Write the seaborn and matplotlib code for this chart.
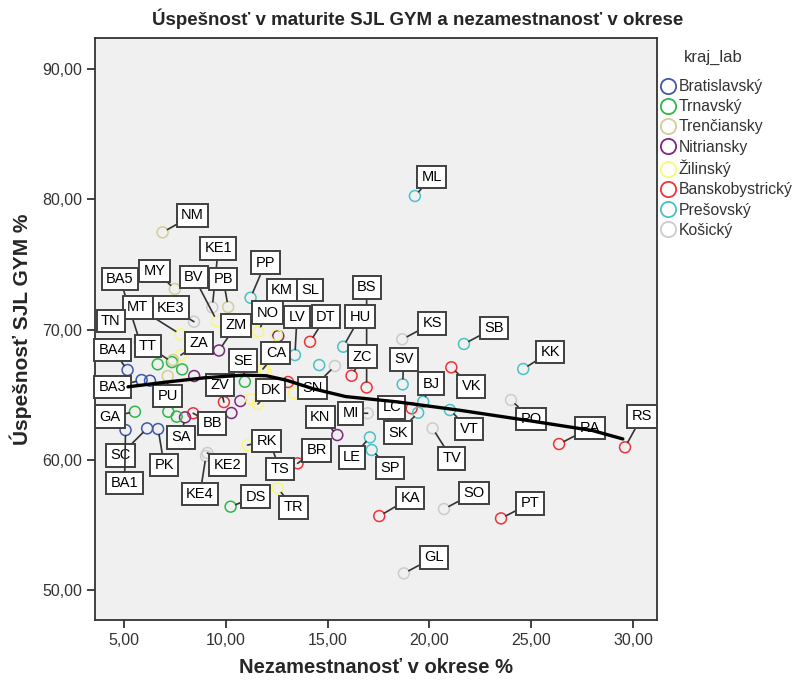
import matplotlib
matplotlib.use('Agg')
import matplotlib.pyplot as plt
from matplotlib import font_manager
from matplotlib.lines import Line2D
from matplotlib.ticker import FuncFormatter
import seaborn as sns
import pandas as pd

# kraje a farby (SPSS default)
kraje = ['Bratislavský', 'Trnavský', 'Trenčiansky', 'Nitriansky',
         'Žilinský', 'Banskobystrický', 'Prešovský', 'Košický']
farby = ['#3E58AC', '#2EB848', '#D3CE97', '#7C287D',
         '#FBF873', '#EF3338', '#48C2C5', '#CCCCCC']

# okresy ('' = bez popisku)
okres = ['NM', 'KE1', 'MY', 'BV', 'PB', 'PP', 'BA5', 'KM', 'SL', 'BS',
         'MT', 'KE3', 'NO', 'LV', 'DT', 'TN', 'ZM', 'HU', 'KS', 'SB',
         'ZA', 'CA', 'TT', 'BA4', 'ZC', 'SV', 'KK', 'SE', 'ZV', 'DK',
         'BA3', 'BJ', 'VK', 'SN', 'PU', 'KN', 'MI', 'LC', 'PO', 'RA',
         'RS', 'GA', 'BB', 'VT', 'SA', 'SK', 'LE', 'SC', 'PK', 'KE2',
         'RK', 'BR', 'TS', 'SP', 'TV', 'BA1', 'KE4', 'DS', 'KA', 'SO',
         'PT', 'TR', 'GL', 'ML',
         '', '', '', '', '', '', '', '', '', '', '', '', '', '', '', '']

kraj = ['Trenčiansky', 'Košický', 'Trenčiansky', 'Žilinský', 'Trenčiansky', 'Prešovský', 'Bratislavský', 'Žilinský', 'Prešovský', 'Banskobystrický',
        'Žilinský', 'Košický', 'Žilinský', 'Prešovský', 'Banskobystrický', 'Trenčiansky', 'Nitriansky', 'Prešovský', 'Košický', 'Prešovský',
        'Žilinský', 'Žilinský', 'Trnavský', 'Bratislavský', 'Banskobystrický', 'Prešovský', 'Prešovský', 'Trnavský', 'Banskobystrický', 'Žilinský',
        'Bratislavský', 'Prešovský', 'Banskobystrický', 'Košický', 'Trenčiansky', 'Nitriansky', 'Košický', 'Banskobystrický', 'Košický', 'Banskobystrický',
        'Banskobystrický', 'Trnavský', 'Banskobystrický', 'Prešovský', 'Nitriansky', 'Prešovský', 'Prešovský', 'Bratislavský', 'Bratislavský', 'Košický',
        'Žilinský', 'Banskobystrický', 'Žilinský', 'Prešovský', 'Košický', 'Bratislavský', 'Košický', 'Trnavský', 'Banskobystrický', 'Košický',
        'Banskobystrický', 'Žilinský', 'Košický', 'Prešovský',
        'Trnavský', 'Trnavský', 'Bratislavský', 'Nitriansky', 'Nitriansky', 'Žilinský', 'Nitriansky', 'Trnavský',
        'Trnavský', 'Nitriansky', 'Žilinský', 'Prešovský', 'Banskobystrický', 'Žilinský', 'Trenčiansky', 'Žilinský']

nezamestnanost = [6.90, 9.34, 7.50, 9.57, 10.12, 11.22, 5.79, 12.76, 14.14, 16.92,
                  7.78, 8.44, 11.60, 13.40, 14.14, 4.80, 9.67, 15.77, 18.67, 21.70,
                  7.80, 11.83, 7.36, 5.18, 16.18, 18.69, 24.61, 10.94, 9.91, 11.58,
                  5.87, 19.70, 21.08, 15.36, 7.15, 15.48, 16.97, 19.13, 24.01, 26.37,
                  29.61, 5.54, 8.40, 21.01, 8.00, 19.45, 17.08, 6.14, 6.68, 9.10,
                  11.07, 13.53, 12.27, 17.17, 20.16, 5.08, 9.03, 10.24, 17.54, 20.72,
                  23.52, 12.55, 18.75, 19.29,
                  6.66, 7.86, 6.28, 8.45, 10.72, 11.24, 10.28, 7.18,
                  7.59, 12.58, 12.50, 14.59, 13.06, 13.35, 7.41, 11.97]

uspesnost = [77.46, 71.70, 73.11, 70.65, 71.73, 72.44, 69.04, 73.03, 73.03, 65.55,
             69.63, 70.60, 69.83, 68.04, 69.06, 70.35, 68.39, 68.68, 69.25, 68.89,
             68.04, 66.97, 67.50, 66.89, 66.45, 65.79, 66.97, 65.99, 64.43, 64.28,
             66.12, 64.46, 67.10, 67.20, 66.43, 61.90, 63.57, 63.95, 64.59, 61.21,
             60.96, 63.69, 63.57, 63.82, 63.26, 63.61, 61.72, 62.41, 62.36, 60.52,
             61.13, 59.73, 60.90, 60.75, 62.41, 62.28, 60.29, 56.40, 55.68, 56.22,
             55.50, 57.81, 51.28, 80.25,
             67.33, 66.94, 66.07, 66.43, 64.51, 64.66, 63.59, 63.69,
             63.31, 69.50, 69.58, 67.27, 65.97, 65.12, 67.66, 66.74]

# krivka (fit line) odcitana z grafu
fit_x = [5.2, 7.0, 9.0, 10.9, 12.0, 13.0, 14.3, 15.9, 18.4, 21.5, 24.7, 28.0, 29.5]
fit_y = [65.6, 65.95, 66.3, 66.5, 66.45, 66.1, 65.45, 64.85, 64.45, 63.8, 63.05, 62.25, 61.6]

# umiestnenie popiskov: posun v pixeloch (vpravo, hore)
label_offsets = {
    'NM': (30, 17), 'KE1': (6, 59), 'MY': (-20, 18), 'BV': (-23, 44), 'PB': (-5, 28),
    'PP': (15, 35), 'BA5': (-20, 63), 'KM': (0, 0), 'SL': (0, 0), 'BS': (0, 100),
    'MT': (-43, 27), 'KE3': (-23, 14), 'NO': (9, 19), 'LV': (2, 38), 'DT': (16, 25),
    'TN': (-9, 4), 'ZM': (17, 25), 'HU': (17, 30), 'KS': (30, 16), 'SB': (30, 16),
    'ZA': (18, 12), 'CA': (13, 16), 'TT': (-24, 16), 'BA4': (-15, 20), 'ZC': (11, 19),
    'SV': (1, 25), 'KK': (27, 17), 'SE': (-2, 21), 'ZV': (-4, 17), 'DK': (13, 14),
    'BA3': (-29, -7), 'BJ': (8, 18), 'VK': (20, -19), 'SN': (-22, -22), 'PU': (0, -20),
    'KN': (-17, 18), 'MI': (-17, 0), 'LC': (-20, 1), 'PO': (20, -19), 'RA': (31, 16),
    'RS': (17, 31), 'GA': (-25, -5), 'BB': (19, -10), 'VT': (19, -19), 'SA': (-4, -20),
    'SK': (-20, -20), 'LE': (-18, -20), 'SC': (-27, -27), 'PK': (6, -36), 'KE2': (20, -12),
    'RK': (19, 4), 'BR': (19, 13), 'TS': (8, -21), 'SP': (18, -18), 'TV': (19, -30),
    'BA1': (-1, -53), 'KE4': (-6, -38), 'DS': (25, 10), 'KA': (31, 18), 'SO': (30, 16),
    'PT': (29, 15), 'TR': (16, -19), 'GL': (30, 16), 'ML': (17, 19),
}

df = pd.DataFrame({'okres': okres, 'kraj_lab': kraj,
                   'nezam': nezamestnanost, 'uspech': uspesnost})
fit = pd.DataFrame({'x': fit_x, 'y': fit_y})

sns.set_style('white')
names = {f.name for f in font_manager.fontManager.ttflist}
narrow = 'Liberation Sans Narrow' if 'Liberation Sans Narrow' in names else 'Liberation Sans'
plt.rcParams['font.family'] = [narrow, 'DejaVu Sans']

fig = plt.figure(figsize=(7.96, 6.86), dpi=100)
ax = fig.add_axes([95 / 796, 1 - 620 / 686, 562 / 796, 582 / 686])
ax.set_facecolor('#F0F0F0')

sns.scatterplot(data=df, x='nezam', y='uspech', hue='kraj_lab', hue_order=kraje,
                palette=farby, s=62, legend=False, ax=ax, zorder=2)
coll = ax.collections[0]
fc = coll.get_facecolors()
coll.set_edgecolors(fc)
coll.set_facecolors('none')
coll.set_linewidths(1.1)

sns.lineplot(data=fit, x='x', y='y', color='black', lw=2.4, ax=ax, zorder=6)

# popisky okresov
for i, row in df.iterrows():
    if row['okres'] == '':
        continue
    dx, dy = label_offsets[row['okres']]
    arrow = None
    if dx != 0 or dy != 0:
        arrow = dict(arrowstyle='-', color='#333333', lw=1.2, shrinkA=0, shrinkB=4)
    ax.annotate(row['okres'], (row['nezam'], row['uspech']), xytext=(dx, dy),
                textcoords='offset pixels', ha='center', va='center',
                fontsize=10.5, family='Liberation Sans', color='black',
                bbox=dict(boxstyle='square,pad=0.3', fc='white', ec='#404040', lw=1.4),
                arrowprops=arrow, zorder=4)

ax.set_xlim(3.58, 31.18)
ax.set_ylim(47.7, 92.38)
ax.set_xticks([5, 10, 15, 20, 25, 30])
ax.set_yticks([50, 60, 70, 80, 90])
fmt = FuncFormatter(lambda v, p: f'{v:.2f}'.replace('.', ','))
ax.xaxis.set_major_formatter(fmt)
ax.yaxis.set_major_formatter(fmt)
ax.tick_params(axis='both', direction='out', length=6, width=1.3, color='#333333',
               labelsize=11.5, labelcolor='#333333', bottom=True, left=True)
for sp in ax.spines.values():
    sp.set_color('#333333')
    sp.set_linewidth(1.3)

ax.set_xlabel('Nezamestnanosť v okrese %', fontsize=14.5, fontweight='bold', labelpad=7)
ax.set_ylabel('Úspešnosť SJL GYM %', fontsize=15, fontweight='bold', labelpad=7)
fig.text(418 / 796, 1 - 19 / 686, 'Úspešnosť v maturite SJL GYM a nezamestnanosť v okrese',
         ha='center', va='center', fontsize=13.5, fontweight='bold')

# legenda
fig.text(713 / 796, 1 - 57 / 686, 'kraj_lab', ha='center', va='center',
         fontsize=12, color='#333333')
handles = [Line2D([], [], marker='o', ls='', mfc='none', mec=c, ms=11, mew=1.3) for c in farby]
leg = fig.legend(handles, kraje, loc='upper left',
                 bbox_to_anchor=(661 / 796, 1 - 79 / 686), frameon=False,
                 fontsize=11.3, handlelength=0.9, borderpad=0,
                 handletextpad=0.2, labelspacing=0.33, borderaxespad=0)
for t in leg.get_texts():
    t.set_color('#333333')

fig.savefig('out.png', dpi=100)
